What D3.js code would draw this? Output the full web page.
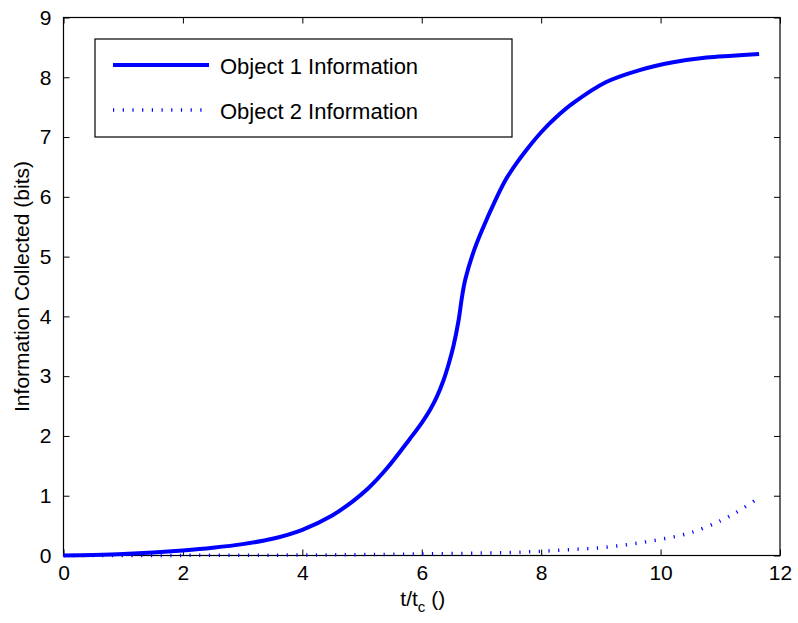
<!DOCTYPE html>
<html lang="en">
<head>
<meta charset="utf-8">
<title>Information Collected</title>
<style>
  body { margin: 0; padding: 0; background: #fff; }
  svg { display: block; font-family: 'Liberation Sans', Arial, Helvetica, sans-serif; }
  .tick text { font-size: 21px; fill: #000; }
  .domain { display: none; }
</style>
</head>
<body>
<svg id="chart" width="798" height="623"></svg>
<script src="https://cdnjs.cloudflare.com/ajax/libs/d3/7.8.5/d3.min.js"></script>
<script>
// data
var obj1T = [0, 0.5, 1, 1.5, 2, 2.5, 3, 3.5, 4, 4.5, 4.85, 5.1, 5.41, 5.8, 6.0, 6.14, 6.25, 6.36, 6.45, 6.53, 6.62, 6.67, 6.73, 6.86, 7.0, 7.25, 7.42, 7.6, 7.75, 8.0, 8.25, 8.54, 9.09, 9.65, 10.21, 10.77, 11.2, 11.65];
var obj1V = [0, 0.01, 0.025, 0.05, 0.085, 0.13, 0.19, 0.28, 0.43, 0.67, 0.91, 1.12, 1.45, 1.95, 2.22, 2.44, 2.65, 2.92, 3.2, 3.5, 3.95, 4.3, 4.62, 5.06, 5.42, 5.98, 6.31, 6.58, 6.78, 7.08, 7.33, 7.57, 7.92, 8.12, 8.25, 8.33, 8.36, 8.39];
var obj2T = [0, 2, 4, 5, 6, 7, 7.5, 8, 8.5, 9, 9.5, 10, 10.5, 11, 11.3, 11.65];
var obj2V = [0, 0.002, 0.008, 0.015, 0.025, 0.04, 0.05, 0.07, 0.1, 0.13, 0.19, 0.27, 0.38, 0.58, 0.74, 0.97];
var xTicks = [0, 2, 4, 6, 8, 10, 12];
var yTicks = [0, 1, 2, 3, 4, 5, 6, 7, 8, 9];
var seriesNames = ['Object 1 Information', 'Object 2 Information'];

var svg = d3.select('#chart'),
    plotL = 63.5, plotR = 780, plotT = 17.5, plotB = 555.5;

var x = d3.scaleLinear().domain([0, 12]).range([plotL, plotR]);
var y = d3.scaleLinear().domain([0, 9]).range([plotB, plotT]);

function pts(ts, vs) {
  return ts.map(function (t, i) { return [t, vs[i]]; });
}

var line = d3.line()
  .x(function (d) { return x(d[0]); })
  .y(function (d) { return y(d[1]); })
  .curve(d3.curveCatmullRom.alpha(0.5));

// axes (MATLAB style: inward ticks on all four sides)
var tick = 6;
function black(g) { g.selectAll('line').attr('stroke', '#000'); }

svg.append('g').attr('transform', 'translate(0,' + plotB + ')')
  .call(d3.axisBottom(x).tickValues(xTicks).tickSizeInner(-tick).tickSizeOuter(0).tickPadding(10))
  .call(black);
svg.append('g').attr('transform', 'translate(0,' + plotT + ')')
  .call(d3.axisTop(x).tickValues(xTicks).tickSizeInner(-tick).tickSizeOuter(0).tickFormat(''))
  .call(black);
svg.append('g').attr('transform', 'translate(' + plotL + ',0)')
  .call(d3.axisLeft(y).tickValues(yTicks).tickSizeInner(-tick).tickSizeOuter(0).tickPadding(12))
  .call(black);
svg.append('g').attr('transform', 'translate(' + plotR + ',0)')
  .call(d3.axisRight(y).tickValues(yTicks).tickSizeInner(-tick).tickSizeOuter(0).tickFormat(''))
  .call(black);

svg.selectAll('g').attr('font-family', null).attr('font-size', null);

svg.append('rect')
  .attr('x', plotL).attr('y', plotT)
  .attr('width', plotR - plotL).attr('height', plotB - plotT)
  .attr('fill', 'none').attr('stroke', '#000').attr('stroke-width', 1.2);

// series
svg.append('path')
  .datum(pts(obj2T, obj2V))
  .attr('d', line)
  .attr('fill', 'none')
  .attr('stroke', '#0000ff')
  .attr('stroke-width', 3.5)
  .attr('stroke-dasharray', '1.2,8.5');

svg.append('path')
  .datum(pts(obj1T, obj1V))
  .attr('d', line)
  .attr('fill', 'none')
  .attr('stroke', '#0000ff')
  .attr('stroke-width', 4);

// legend
var lg = svg.append('g');
lg.append('rect')
  .attr('x', 95).attr('y', 39).attr('width', 417).attr('height', 98)
  .attr('fill', '#fff').attr('stroke', '#000').attr('stroke-width', 1.2);
lg.append('line')
  .attr('x1', 113).attr('x2', 209).attr('y1', 65).attr('y2', 65)
  .attr('stroke', '#0000ff').attr('stroke-width', 4);
lg.append('line')
  .attr('x1', 113).attr('x2', 209).attr('y1', 110).attr('y2', 110)
  .attr('stroke', '#0000ff').attr('stroke-width', 3.5)
  .attr('stroke-dasharray', '1.2,8.5');
lg.selectAll('text.lab')
  .data(seriesNames)
  .enter().append('text')
  .attr('class', 'lab')
  .attr('x', 220)
  .attr('y', function (d, i) { return 66 + i * 45; })
  .attr('dy', '0.36em')
  .attr('font-size', 22)
  .text(function (d) { return d; });

// axis labels
var xl = svg.append('text')
  .attr('x', (plotL + plotR) / 2 + 1)
  .attr('y', 606)
  .attr('text-anchor', 'middle')
  .attr('font-size', 21);
xl.append('tspan').text('t/t');
xl.append('tspan').attr('font-size', 15).attr('dy', 6).text('c');
xl.append('tspan').attr('dy', -6).text(' ()');

svg.append('text')
  .attr('transform', 'translate(29,' + ((plotT + plotB) / 2) + ') rotate(-90)')
  .attr('text-anchor', 'middle')
  .attr('font-size', 21)
  .text('Information Collected (bits)');
</script>
</body>
</html>
